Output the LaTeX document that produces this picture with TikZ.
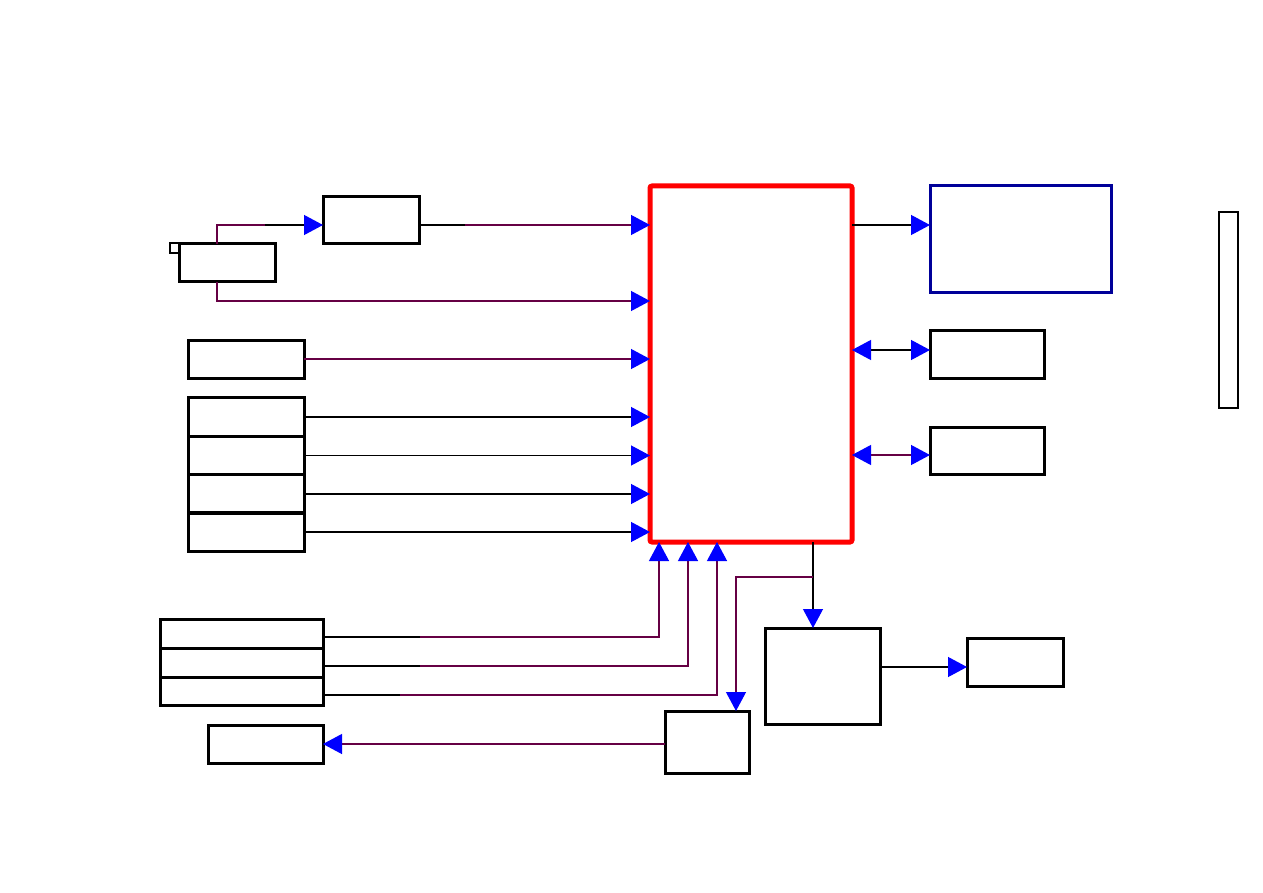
\documentclass[tikz,border=0pt]{standalone}
\usetikzlibrary{arrows.meta,calc}
\definecolor{pur}{HTML}{660044}
\definecolor{navy}{HTML}{000099}
\definecolor{tipblue}{HTML}{0000FF}
\tikzset{
  bx/.style 2 args={draw=black, line width=1.5pt, minimum width=#1*0.5pt, minimum height=#2*0.5pt, inner sep=0pt, outer sep=0pt, fill=none},
  pline/.style={draw=pur, line width=0.6pt},
  kline/.style={draw=black, line width=0.6pt},
  tip/.style={-{Triangle[length=9.5pt,width=10pt,color=tipblue]}},
  dtip/.style={{Triangle[length=9.5pt,width=10pt,color=tipblue]}-{Triangle[length=9.5pt,width=10pt,color=tipblue]}}
}
\begin{document}
\begin{tikzpicture}[x=0.5pt,y=-0.5pt]
\useasboundingbox (0,0) rectangle (1263,893);
% main block
\node[bx={202}{356}, draw=red, line width=2.5pt, rounded corners=1pt] (main) at (751,364) {};
% left blocks
\node[bx={96}{47}] (A) at (371,220.5) {};
\node[bx={96}{38}] (B) at (227,263) {};
\node[bx={9}{10}, line width=1pt] (tab) at (174.5,248) {};
\node[bx={116}{38}] (C) at (246,359) {};
\node[bx={116}{38.5}] (S1) at (246,417) {};
\node[bx={116}{38.5}] (S2) at (246,455.5) {};
\node[bx={116}{38.5}] (S3) at (246,494) {};
\node[bx={116}{38.5}] (S4) at (246,532) {};
\node[bx={163}{29}] (T1) at (241.5,633.5) {};
\node[bx={163}{29}] (T2) at (241.5,662.5) {};
\node[bx={163}{28}] (T3) at (241.5,691) {};
\node[bx={115}{38}] (D) at (265.5,744) {};
% bottom blocks
\node[bx={84}{62}] (E) at (707,742) {};
\node[bx={115}{96}] (F) at (822.5,676) {};
\node[bx={96}{48}] (G) at (1015,662) {};
% right blocks
\node[bx={181}{106}, draw=navy] (H) at (1020.5,239) {};
\node[bx={114}{48}] (I) at (987,354) {};
\node[bx={114}{47}] (J) at (987,450.5) {};
\node[bx={19}{196}, line width=0.8pt] (thin) at (1228.5,310) {};

% B -> A
\draw[pline] (B.north-|217,0) -- (217,225) -- (265,225);
\draw[kline,tip] (265,225) -- (A.west|-0,225);
% A -> main
\draw[kline] (A.east|-0,225) -- (465,225);
\draw[pline,tip] (465,225) -- (main.west|-0,225);
% B -> main
\draw[pline,tip] (B.south-|217,0) -- (217,301) -- (main.west|-0,301);
% C -> main
\draw[pline,tip] (C.east) -- (main.west|-C.east);
% stack -> main
\draw[kline,tip] (S1.east) -- (main.west|-S1.east);
\draw[kline,tip] (S2.east) -- (main.west|-S2.east);
\draw[kline,tip] (S3.east) -- (main.west|-S3.east);
\draw[kline,tip] (S4.east) -- (main.west|-S4.east);
% stack3 -> main bottom
\draw[kline] (T1.east|-0,637) -- (420,637);
\draw[pline,tip] (420,637) -- (659,637) -- (main.south-|659,0);
\draw[kline] (T2.east|-0,666) -- (420,666);
\draw[pline,tip] (420,666) -- (688,666) -- (main.south-|688,0);
\draw[kline] (T3.east|-0,695) -- (400,695);
\draw[pline,tip] (400,695) -- (717,695) -- (main.south-|717,0);
% main -> H, I, J
\draw[kline,tip] (main.east|-0,225) -- (H.west|-0,225);
\draw[kline,dtip] (main.east|-0,350) -- (I.west|-0,350);
\draw[pline,dtip] (main.east|-0,455) -- (J.west|-0,455);
% main -> F
\draw[kline,tip] (main.south-|813,0) -- (F.north-|813,0);
% branch -> E
\draw[pline,tip] (813,577) -- (736,577) -- (E.north-|736,0);
% E -> D
\draw[pline,tip] (E.west|-D.east) -- (D.east);
% F -> G
\draw[kline,tip] (F.east|-0,667) -- (G.west|-0,667);
\end{tikzpicture}
\end{document}
